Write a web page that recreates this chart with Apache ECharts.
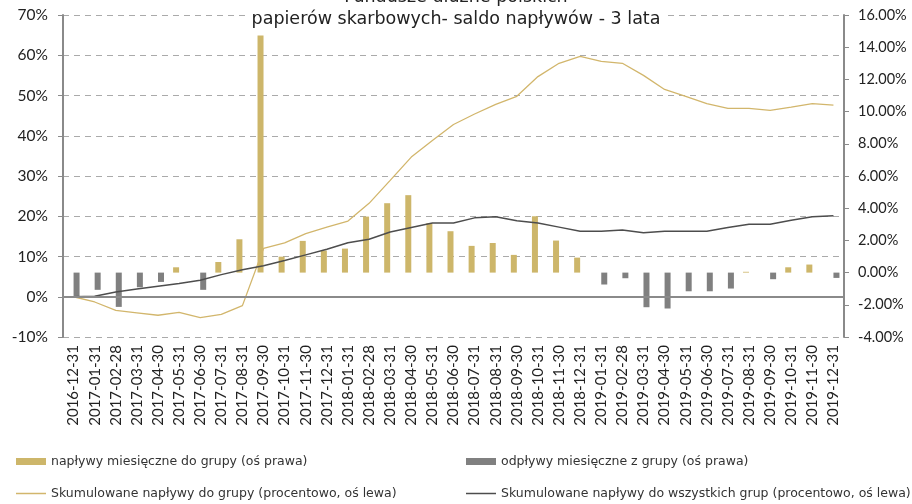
<!DOCTYPE html>
<html>
<head>
<meta charset="utf-8">
<script src="https://cdn.jsdelivr.net/npm/echarts@6/dist/echarts.min.js"></script>
<style>
html,body{margin:0;padding:0;background:#fff;}
#c{width:912px;height:504px;}
</style>
</head>
<body>
<div id="c"></div>
<script>
const categories = ['2016-12-31','2017-01-31','2017-02-28','2017-03-31','2017-04-30','2017-05-31','2017-06-30','2017-07-31','2017-08-31','2017-09-30','2017-10-31','2017-11-30','2017-12-31','2018-01-31','2018-02-28','2018-03-31','2018-04-30','2018-05-31','2018-06-30','2018-07-31','2018-08-31','2018-09-30','2018-10-31','2018-11-30','2018-12-31','2019-01-31','2019-02-28','2019-03-31','2019-04-30','2019-05-31','2019-06-30','2019-07-31','2019-08-31','2019-09-30','2019-10-31','2019-11-30','2019-12-31'];
const inflowBars = [null,null,null,null,null,0.33,null,0.66,2.07,14.72,0.99,1.97,1.37,1.49,3.48,4.31,4.81,3.07,2.57,1.66,1.84,1.10,3.50,1.99,0.93,null,null,null,null,null,null,null,0.05,null,0.33,0.50,null];
const outflowBars = [-1.55,-1.07,-2.13,-0.91,-0.58,null,-1.07,null,null,null,null,null,null,null,null,null,null,null,null,null,null,null,null,null,null,-0.74,-0.35,-2.15,-2.23,-1.16,-1.16,-0.99,null,-0.41,null,null,-0.33];
const cumGroup = [0,-1.3,-3.4,-4.0,-4.6,-3.9,-5.2,-4.4,-2.2,12.0,13.4,15.7,17.3,18.8,23.2,28.9,34.7,38.8,42.8,45.4,47.8,49.8,54.7,58.0,59.7,58.5,58.0,55.0,51.5,49.8,48.0,46.8,46.8,46.3,47.1,48.0,47.6];
const cumAll = [0,0.1,1.2,1.9,2.6,3.3,4.1,5.5,6.7,7.7,9.0,10.4,11.8,13.4,14.3,16.1,17.2,18.3,18.3,19.6,19.9,18.9,18.3,17.3,16.3,16.3,16.6,15.9,16.3,16.3,16.3,17.2,18.0,18.0,19.0,19.9,20.1];
const leftTicks = {min:-10, max:70, interval:10};
const rightTicks = {min:-4, max:16, interval:2};
const titleText = 'Fundusze dłużne polskich\npapierów skarbowych- saldo napływów - 3 lata';
const names = ['napływy miesięczne do grupy (oś prawa)','odpływy miesięczne z grupy (oś prawa)','Skumulowane napływy do grupy (procentowo, oś lewa)','Skumulowane napływy do wszystkich grup (procentowo, oś lewa)'];

const gold = '#cdb66a', gray = '#808080', goldLine = '#d2b66c', darkLine = '#4d4d4d';
const legendFont = {fontFamily:'DejaVu Sans', fontSize:12.5, color:'#333'};
const chart = echarts.init(document.getElementById('c'), null, {renderer:'canvas'});
chart.setOption({
  animation:false,
  backgroundColor:'#fff',
  title:{text:titleText, left:'center', top:-14, padding:[0,6],
    backgroundColor:'#fff',
    textStyle:{fontFamily:'DejaVu Sans', fontWeight:'normal', fontSize:17.5, lineHeight:22, color:'#222'}},
  grid:{left:63, right:68, top:15, bottom:167},
  legend:[
    {data:[names[0]], left:16, top:455, padding:0, icon:'rect', itemWidth:30, itemHeight:7, itemGap:4, textStyle:legendFont},
    {data:[names[1]], left:466, top:455, padding:0, icon:'rect', itemWidth:30, itemHeight:7, itemGap:4, textStyle:legendFont},
    {data:[names[2]], left:16, top:487, padding:0, icon:'rect', itemWidth:30, itemHeight:1.5, itemGap:4, textStyle:legendFont},
    {data:[names[3]], left:466, top:487, padding:0, icon:'rect', itemWidth:30, itemHeight:1.5, itemGap:4, textStyle:legendFont}
  ],
  xAxis:{type:'category', data:categories, boundaryGap:true,
    axisLine:{show:false}, axisTick:{show:false},
    axisLabel:{rotate:90, interval:0, margin:8, fontFamily:'Lato', fontSize:15, color:'#222'}},
  yAxis:[
    {type:'value', position:'left', min:leftTicks.min, max:leftTicks.max, interval:leftTicks.interval,
     axisLine:{show:true, lineStyle:{color:'#8a8a8a', width:2}},
     axisTick:{show:true, inside:false, length:5, lineStyle:{color:'#8a8a8a', width:1}},
     axisLabel:{formatter:v=>v+'%', fontFamily:'Lato', fontSize:15.5, color:'#222', margin:15},
     splitLine:{show:true, lineStyle:{color:'#aaaaaa', type:[6,5], width:1}}},
    {type:'value', position:'right', min:rightTicks.min, max:rightTicks.max, interval:rightTicks.interval,
     axisLine:{show:true, lineStyle:{color:'#8a8a8a', width:2}},
     axisTick:{show:true, inside:false, length:5, lineStyle:{color:'#8a8a8a', width:1}},
     axisLabel:{formatter:v=>v.toFixed(2)+'%', fontFamily:'Lato', fontSize:14.5, color:'#222', margin:14},
     splitLine:{show:false}}
  ],
  series:[
    {name:names[0], type:'bar', yAxisIndex:1, data:inflowBars, barWidth:6, barGap:'0%', itemStyle:{color:gold}, z:2},
    {name:names[1], type:'bar', yAxisIndex:1, data:outflowBars, barWidth:6, barGap:'0%', itemStyle:{color:gray}, z:2},
    {name:names[2], type:'line', yAxisIndex:0, data:cumGroup, symbol:'none', lineStyle:{color:goldLine, width:1.3}, itemStyle:{color:goldLine}, z:3},
    {name:names[3], type:'line', yAxisIndex:0, data:cumAll, symbol:'none', lineStyle:{color:darkLine, width:1.5}, itemStyle:{color:darkLine}, z:4,
     markLine:{silent:true, symbol:'none', label:{show:false}, lineStyle:{color:'#8a8a8a', type:'solid', width:2}, data:[{yAxis:0}]}}
  ]
});
</script>
</body>
</html>
